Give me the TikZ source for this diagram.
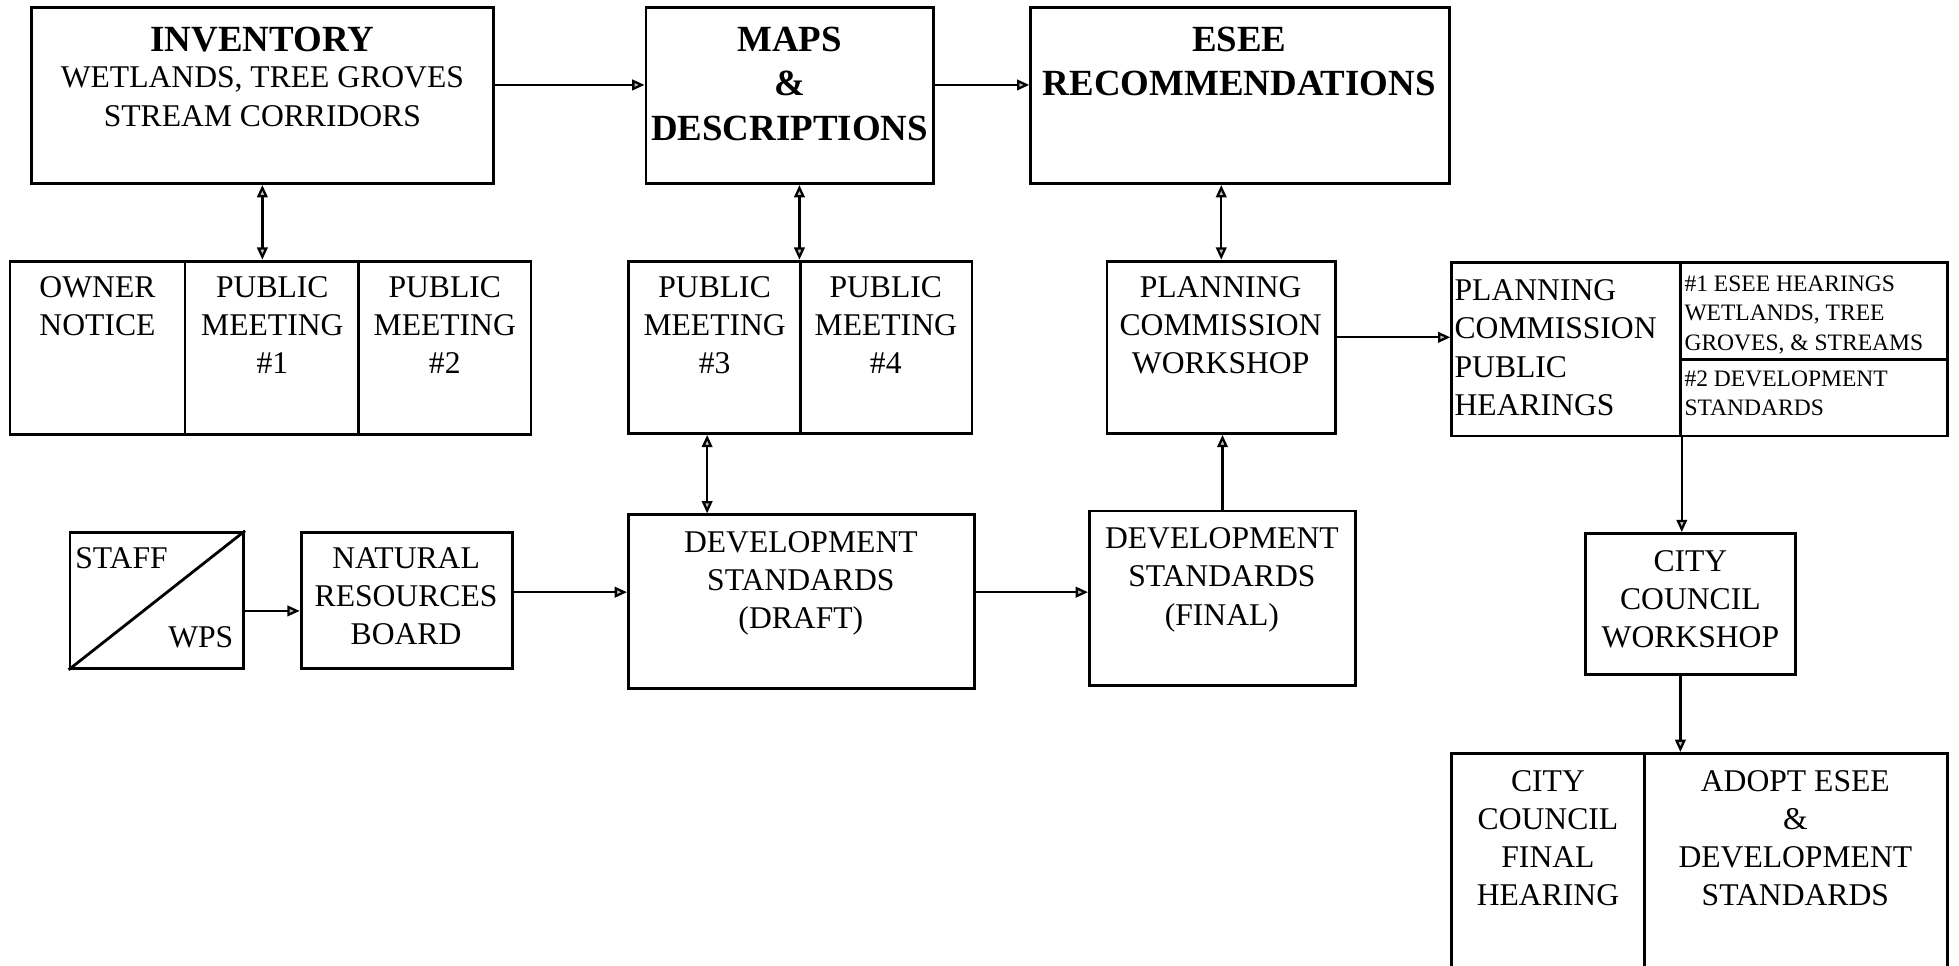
\documentclass[tikz,border=0pt]{standalone}
\usepackage{fontspec}
\setmainfont{Liberation Serif}
\usetikzlibrary{arrows.meta,fit}
\begin{document}
\begin{tikzpicture}[x=0.025cm,y=-0.025cm,
  box/.style={draw, line width=1.6pt, inner sep=0pt},
  txt/.style={font=\fontsize{18}{21.7}\selectfont, align=center, inner sep=0pt, anchor=north},
  txtl/.style={font=\fontsize{18}{21.9}\selectfont, align=left, inner sep=0pt, anchor=north west},
  head/.style={font=\fontsize{21}{25.2}\selectfont\bfseries, align=center, inner sep=0pt, anchor=north},
  small/.style={font=\fontsize{13.4}{16.7}\selectfont, align=left, inner sep=0pt, anchor=north west},
  tip/.tip={Triangle[length=7pt,width=6pt,fill=gray!50]},
  conn/.style={line width=1.3pt, -tip},
  dconn/.style={line width=1.3pt, tip-tip},
]
\useasboundingbox[fill=white] (0,0) rectangle (1568,773);

% helper coordinates
\coordinate (y68) at (0,68);
\coordinate (x210) at (210,0);
\coordinate (x566) at (566,0);
\coordinate (y489) at (0,489);
\coordinate (y474) at (0,474);
\coordinate (y270) at (0,270);
\coordinate (x1345) at (1345,0);

% boxes
\node[box, fit={(25,6) (395,147)}] (inv) {};
\node[box, fit={(517,6) (747,147)}] (maps) {};
\node[box, fit={(825,6) (1160,147)}] (esee) {};

\node[box, fit={(8,209) (148,348)}] (own) {};
\node[box, fit={(148,209) (287,348)}] (pm1) {};
\node[box, fit={(287,209) (425,348)}] (pm2) {};

\node[box, fit={(503,209) (641,347)}] (pm3) {};
\node[box, fit={(641,209) (778,347)}] (pm4) {};

\node[box, fit={(886,209) (1069,347)}] (pcw) {};

\node[box, fit={(1162,210) (1345,349)}] (pch) {};
\node[box, fit={(1345,210) (1559,288)}] (pch1) {};
\node[box, fit={(1345,288) (1559,349)}] (pch2) {};

\node[box, fit={(56,426) (195,535)}] (staff) {};
\draw[line width=1.6pt] (staff.south west) -- (staff.north east);
\node[box, fit={(241,426) (410,535)}] (nrb) {};
\node[box, fit={(503,412) (780,551)}] (draft) {};
\node[box, fit={(872,409) (1085,549)}] (final) {};
\node[box, fit={(1269,427) (1437,540)}] (ccw) {};
\node[box, fit={(1162,603) (1316,800)}] (cch) {};
\node[box, fit={(1316,603) (1559,800)}] (adopt) {};

% texts
\node[head] (tinv) at (210,21.4) {INVENTORY};
\node[txt, font=\fontsize{18}{21.9}\selectfont] (tinv2) at (210,53.2) {WETLANDS, TREE GROVES\\STREAM CORRIDORS};
\node[head] (tmaps) at (632,21.4) {MAPS\\\&\\DESCRIPTIONS};
\node[head] (tesee) at (992,21.4) {ESEE\\RECOMMENDATIONS};

\node[txt] (town) at (78,221.2) {OWNER\\NOTICE};
\node[txt] (tpm1) at (218,221.2) {PUBLIC\\MEETING\\\#1};
\node[txt] (tpm2) at (356,221.2) {PUBLIC\\MEETING\\\#2};
\node[txt] (tpm3) at (572,221.2) {PUBLIC\\MEETING\\\#3};
\node[txt] (tpm4) at (709,221.2) {PUBLIC\\MEETING\\\#4};
\node[txt] (tpcw) at (977,221.2) {PLANNING\\COMMISSION\\WORKSHOP};

\node[txtl] (tpch) at (1164,223.2) {PLANNING\\COMMISSION\\PUBLIC\\HEARINGS};
\node[small] (tpch1) at (1348,220.5) {\#1 ESEE HEARINGS\\WETLANDS, TREE\\GROVES, \& STREAMS};
\node[small] (tpch2) at (1348,296.5) {\#2 DEVELOPMENT\\STANDARDS};

\node[txtl] (tstaff) at (60,438.2) {STAFF};
\node[txt, anchor=north east] (twps) at (187,501.2) {WPS};
\node[txt] (tnrb) at (325,438.2) {NATURAL\\RESOURCES\\BOARD};
\node[txt] (tdraft) at (641,425.2) {DEVELOPMENT\\STANDARDS\\(DRAFT)};
\node[txt] (tfinal) at (978,422.2) {DEVELOPMENT\\STANDARDS\\(FINAL)};
\node[txt] (tccw) at (1353,440.2) {CITY\\COUNCIL\\WORKSHOP};
\node[txt] (tcch) at (1239,616.2) {CITY\\COUNCIL\\FINAL\\HEARING};
\node[txt] (tadopt) at (1437,616.2) {ADOPT ESEE\\\&\\DEVELOPMENT\\STANDARDS};

% connectors
\draw[conn] (inv.east |- y68) -- (maps.west |- y68);
\draw[conn] (maps.east |- y68) -- (esee.west |- y68);
\draw[dconn] (inv.south -| x210) -- (pm1.north -| x210);
\draw[dconn] (maps.south -| pm4.north west) -- (pm4.north west);
\draw[dconn] (esee.south -| pcw.north) -- (pcw.north);
\draw[dconn] (pm3.south -| x566) -- (draft.north -| x566);
\draw[conn] (staff.east |- y489) -- (nrb.west |- y489);
\draw[conn] (nrb.east |- y474) -- (draft.west |- y474);
\draw[conn] (draft.east |- y474) -- (final.west |- y474);
\draw[conn] (final.north) -- (pcw.south -| final.north);
\draw[conn] (pcw.east |- y270) -- (pch.west |- y270);
\draw[conn] (pch.south east) -- (ccw.north -| pch.south east);
\draw[conn] (ccw.south -| x1345) -- (adopt.north -| x1345);
\end{tikzpicture}
\end{document}
